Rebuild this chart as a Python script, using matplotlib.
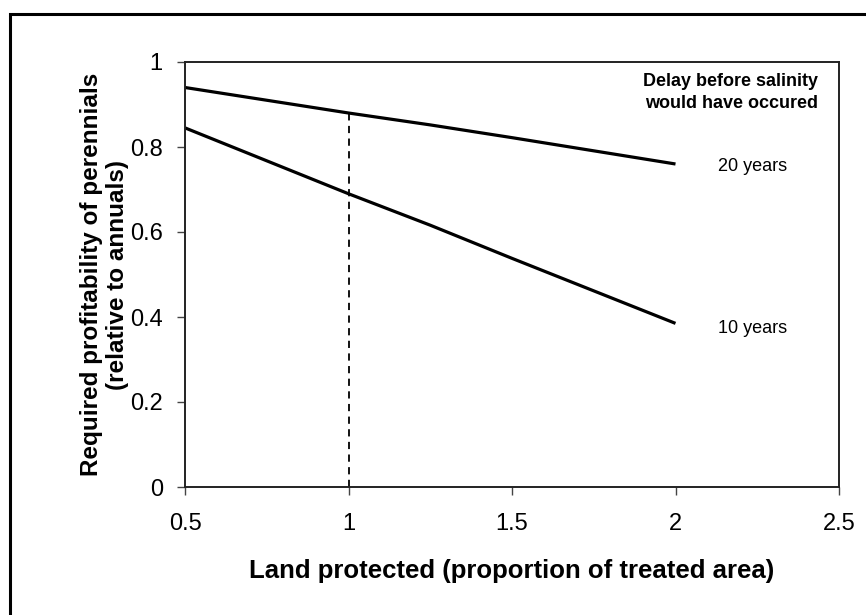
import matplotlib.pyplot as plt
from matplotlib.patches import Rectangle

plt.rcParams['font.family'] = ['Liberation Sans', 'DejaVu Sans']

# land protected (proportion of treated area)
x = [0.5, 1.0, 1.25, 1.5, 2.0]
# required profitability of perennials, by delay before salinity
y_20yr = [0.94, 0.88, 0.852, 0.822, 0.76]
y_10yr = [0.845, 0.69, 0.616, 0.538, 0.385]
series_labels = ['20 years', '10 years']
marker_x = 1.0

fig = plt.figure(figsize=(8.66, 6.15), dpi=100)
ax = fig.add_axes([185 / 866, 128 / 615, 654 / 866, 425 / 615])

ax.plot(x, y_20yr, color='black', lw=2.3, solid_capstyle='butt')
ax.plot(x, y_10yr, color='black', lw=2.3, solid_capstyle='butt')

# dashed guide at x = 1 up to the 20-year curve
ax.plot([marker_x, marker_x], [0, y_20yr[x.index(marker_x)]], color='black',
        lw=1.3, ls=(0, (4, 3)))

ax.text(2.13, 0.753, series_labels[0], fontsize=13, va='center', ha='left')
ax.text(2.13, 0.374, series_labels[1], fontsize=13, va='center', ha='left')
ax.text(2.436, 0.973, 'Delay before salinity\nwould have occured',
        fontsize=13, fontweight='bold', ha='right', va='top', linespacing=1.33)

ax.set_xlim(0.5, 2.5)
ax.set_ylim(0, 1)
ax.set_xticks([0.5, 1, 1.5, 2, 2.5])
ax.set_xticklabels(['0.5', '1', '1.5', '2', '2.5'])
ax.set_yticks([0, 0.2, 0.4, 0.6, 0.8, 1])
ax.set_yticklabels(['0', '0.2', '0.4', '0.6', '0.8', '1'])
ax.tick_params(direction='out', length=6, width=1, labelsize=17, color='#444444')
ax.tick_params(axis='x', pad=13)
ax.tick_params(axis='y', pad=10)
for s in ax.spines.values():
    s.set_linewidth(1.4)
    s.set_color('#222222')

ax.set_xlabel('Land protected (proportion of treated area)', fontsize=18.5,
              fontweight='bold')
ax.xaxis.set_label_coords(0.5, -0.169)
ax.set_ylabel('Required profitability of perennials\n(relative to annuals)',
              fontsize=17.5, fontweight='bold', linespacing=1.2)
ax.yaxis.set_label_coords(-0.085, 0.5)

# outer frame (only top and left visible in the original)
fig.patches.append(Rectangle((10 / 866, -0.1), 1.2, 1 - 14 / 615 + 0.1,
                             transform=fig.transFigure, fill=False,
                             edgecolor='black', lw=2.2))

fig.savefig('out.png', dpi=100)
